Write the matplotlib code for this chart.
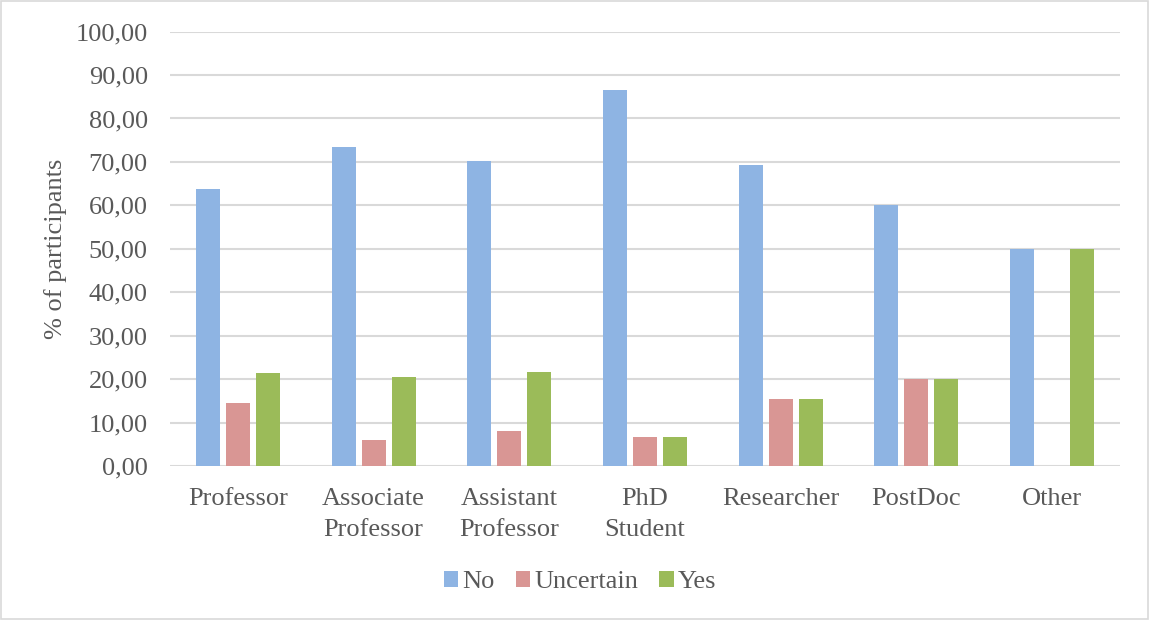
import matplotlib
matplotlib.use("Agg")
import matplotlib.pyplot as plt
import numpy as np
from matplotlib.ticker import FuncFormatter
from matplotlib.patches import Rectangle

categories = ["Professor", "Associate\nProfessor", "Assistant\nProfessor", "PhD\nStudent",
              "Researcher", "PostDoc", "Other"]
series_names = ["No", "Uncertain", "Yes"]
no_vals = [63.8, 73.5, 70.3, 86.67, 69.23, 60.0, 50.0]
uncertain_vals = [14.6, 6.1, 8.1, 6.67, 15.38, 20.0, 0.0]
yes_vals = [21.5, 20.4, 21.6, 6.67, 15.38, 20.0, 50.0]
colors = ["#8EB4E3", "#D99694", "#9BBB59"]

plt.rcParams['font.family'] = ['Liberation Serif', 'DejaVu Serif']
text_color = "#595959"

fig = plt.figure(figsize=(11.49, 6.20), dpi=100)
ax = fig.add_axes([170/1149, 1 - 466/620, (1120-170)/1149, (466-31.6)/620])

x = np.arange(len(categories))
width = 0.177
step = 0.221
for i, (vals, name, c) in enumerate(zip([no_vals, uncertain_vals, yes_vals], series_names, colors)):
    ax.bar(x + (i - 1) * step, vals, width, color=c, label=name, zorder=3)

ax.set_xlim(-0.5, len(categories) - 0.5)
ax.set_ylim(0, 100)
ax.set_yticks(np.arange(0, 101, 10))
ax.yaxis.set_major_formatter(FuncFormatter(lambda v, p: f"{v:.2f}".replace(".", ",")))
ax.set_xticks(x)
ax.set_xticklabels(categories, linespacing=1.5)
ax.grid(axis='y', color="#D9D9D9", linewidth=1.5, zorder=0)
for s in ax.spines.values():
    s.set_visible(False)
ax.tick_params(axis='both', length=0, labelsize=19, colors=text_color)
ax.tick_params(axis='y', pad=16)
ax.tick_params(axis='x', pad=16)
ax.set_ylabel("% of participants", fontsize=19, color=text_color, labelpad=6)

leg = fig.legend(loc='center', bbox_to_anchor=(580/1149, 1 - 582/620), ncol=3, frameon=False,
                 fontsize=19, handlelength=0.55, handleheight=0.55, handletextpad=0.15,
                 columnspacing=0.8, labelcolor=text_color)

fig.patches.append(Rectangle((1/1149, 1/620), 1 - 2/1149, 1 - 2/620, transform=fig.transFigure,
                             fill=False, edgecolor="#D9D9D9", linewidth=1.2))

fig.savefig("out.png", dpi=100, facecolor="white")
